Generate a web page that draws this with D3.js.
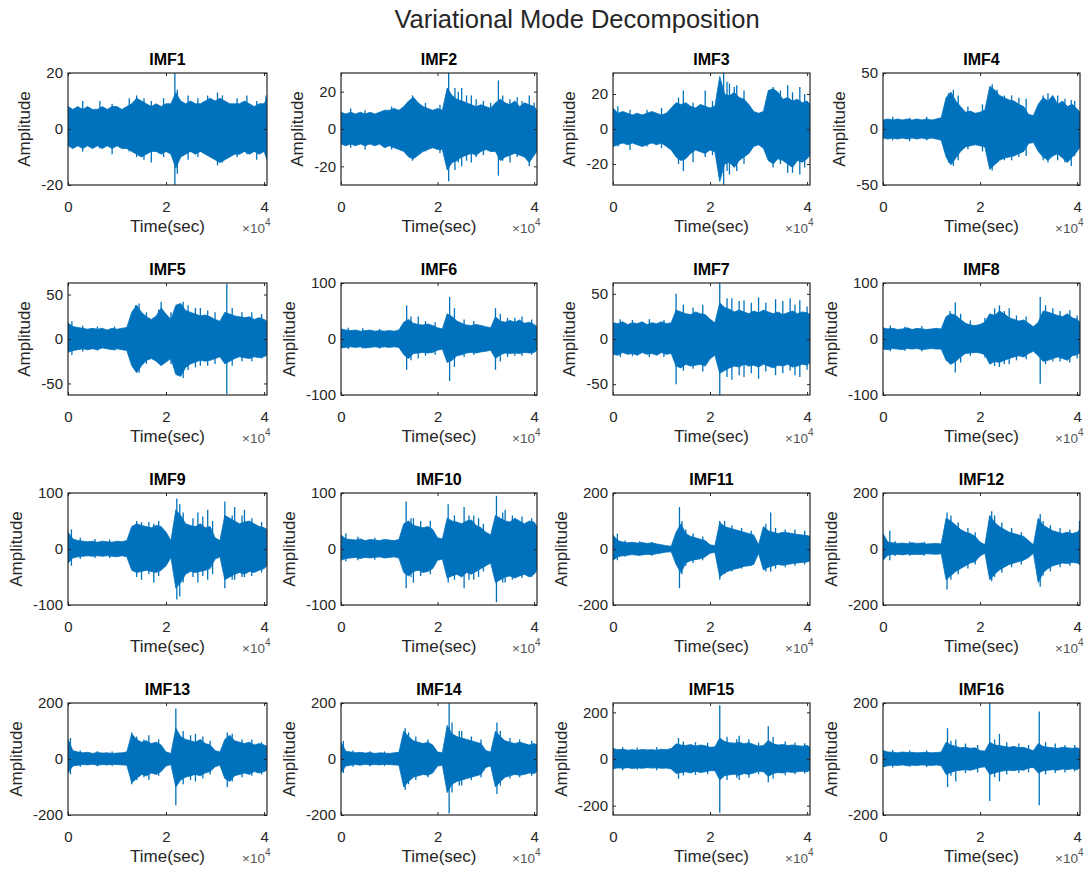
<!DOCTYPE html>
<html><head><meta charset="utf-8">
<script src="https://cdn.jsdelivr.net/npm/d3@7"></script>
<style>body{margin:0;background:#fff} text{font-family:"Liberation Sans",Arial,Helvetica,sans-serif}</style>
</head><body><svg id="chart" width="1087" height="875"></svg>
<script>
// ---------------- DATA ----------------
const chartTitle = "Variational Mode Decomposition";
const imfNames = ["IMF1","IMF2","IMF3","IMF4","IMF5","IMF6","IMF7","IMF8","IMF9","IMF10","IMF11","IMF12","IMF13","IMF14","IMF15","IMF16"];
const xLabel = "Time(sec)";
const yLabel = "Amplitude";
const xMax = 40600;
const xTickValues = [0, 20000, 40000];
const xTickLabels = ["0", "2", "4"];
const yLimits = [20, 30, 32, 50, 63, 100, 62, 100, 100, 100, 200, 200, 200, 200, 240, 200];
const yTickSteps = [20, 20, 20, 50, 50, 100, 50, 100, 100, 100, 200, 200, 200, 200, 200, 200];
// envelope sample times (s)
const timeSec = [0,1000,2000,3000,4000,5000,6000,7000,8000,9000,10000,11000,12000,13000,14000,15000,16000,17000,18000,19000,20000,21000,22000,23000,24000,25000,26000,27000,28000,29000,30000,31000,32000,33000,34000,35000,36000,37000,38000,39000,40000,40600];

// upper / lower envelopes
const imf1Upper = [8,7,8,7,8,7,7,8,7,8, 8,7,8,9,11,10,9,8,9,8, 9,9,13,10,9,10,9,9,10,11, 10,11,10,9,9,9,10,9,8,9, 9,11];
const imf1Lower = [-6,-7,-6,-7,-6,-7,-6,-7,-6,-7, -6,-7,-7,-8,-9,-10,-9,-8,-8,-9, -8,-9,-14,-10,-9,-8,-9,-8,-9,-10, -11,-12,-11,-10,-9,-9,-8,-9,-8,-9, -8,-11];
const imf2Upper = [9,8,9,8,9,8,9,8,9,10, 10,11,10,12,15,17,14,12,11,10, 11,10,22,18,16,15,14,13,12,13, 12,11,14,16,14,13,15,12,14,13, 12,10];
const imf2Lower = [-8,-9,-8,-9,-8,-9,-8,-9,-8,-10, -9,-10,-11,-12,-15,-16,-14,-12,-11,-10, -11,-11,-22,-18,-17,-15,-14,-13,-14,-12, -11,-12,-12,-17,-15,-14,-13,-14,-15,-18, -14,-12];
const imf3Upper = [12,9,10,9,8,9,8,9,10,9, 8,9,12,15,14,15,13,12,14,13, 12,13,30,20,19,21,18,17,14,10, 9,10,22,23,21,17,18,16,17,15, 16,14];
const imf3Lower = [-10,-9,-8,-9,-8,-9,-10,-9,-8,-9, -8,-10,-12,-16,-18,-17,-14,-12,-13,-14, -12,-13,-30,-20,-19,-22,-18,-16,-14,-10, -9,-11,-18,-20,-17,-18,-20,-22,-18,-19, -17,-15];
const imf4Upper = [8,9,8,9,8,9,8,9,8,9, 8,9,10,28,33,25,20,15,16,14, 15,17,38,35,30,28,26,25,22,20, 13,12,22,28,25,30,22,25,20,22, 18,15];
const imf4Lower = [-8,-9,-8,-9,-8,-9,-8,-9,-8,-9, -8,-9,-10,-25,-32,-26,-20,-16,-15,-14, -15,-16,-36,-32,-28,-26,-25,-24,-22,-20, -13,-12,-20,-25,-28,-24,-22,-26,-30,-25, -20,-16];
const imf5Upper = [18,14,13,12,11,12,11,12,10,12, 11,12,13,30,38,30,25,22,26,35, 28,22,38,40,32,30,28,26,27,25, 22,20,30,28,26,25,24,25,22,24, 22,20];
const imf5Lower = [-15,-13,-12,-11,-12,-11,-12,-10,-11,-12, -11,-12,-13,-30,-38,-30,-24,-22,-25,-30, -26,-22,-40,-42,-32,-28,-26,-24,-25,-24, -22,-20,-28,-25,-22,-20,-21,-22,-20,-21, -20,-18];
const imf6Upper = [18,16,15,16,14,15,16,14,15,14, 15,14,16,30,35,28,26,25,27,24, 20,18,45,40,32,28,25,24,26,24, 22,20,40,32,30,33,30,34,28,30, 26,22];
const imf6Lower = [-16,-15,-14,-15,-14,-16,-15,-14,-15,-14, -15,-14,-15,-28,-35,-26,-25,-24,-25,-24, -20,-18,-42,-38,-30,-28,-25,-24,-25,-23, -22,-20,-35,-28,-25,-26,-25,-26,-24,-25, -24,-20];
const imf7Upper = [18,17,19,16,18,17,19,16,18,17, 19,17,18,32,30,28,27,30,28,27, 22,18,40,35,33,30,32,30,28,31, 29,32,30,28,30,27,29,31,28,30, 29,27];
const imf7Lower = [-17,-18,-15,-17,-16,-18,-15,-17,-16,-18, -15,-17,-16,-30,-32,-28,-30,-29,-28,-30, -22,-18,-38,-35,-32,-30,-31,-28,-30,-29, -31,-28,-30,-32,-29,-30,-28,-31,-30,-28, -29,-26];
const imf8Upper = [20,18,19,17,18,20,17,19,18,17, 18,19,18,40,45,42,35,28,25,24, 26,30,45,42,50,45,38,35,32,34, 28,22,30,50,48,45,42,40,45,38, 35,30];
const imf8Lower = [-18,-19,-17,-18,-19,-17,-18,-17,-19,-18, -17,-18,-18,-38,-45,-40,-32,-26,-25,-24, -25,-28,-45,-40,-42,-38,-35,-32,-30,-32, -26,-22,-30,-40,-38,-35,-32,-35,-38,-30, -28,-25];
const imf9Upper = [30,18,15,14,13,14,12,14,13,12, 14,13,15,40,45,42,40,38,42,40, 30,15,70,60,45,42,40,45,38,40, 20,15,60,55,50,45,48,50,45,40, 38,35];
const imf9Lower = [-25,-16,-14,-13,-12,-13,-12,-13,-12,-13, -14,-12,-14,-38,-42,-40,-38,-40,-42,-38, -30,-15,-70,-60,-45,-40,-42,-40,-38,-35, -18,-14,-55,-50,-45,-42,-45,-40,-42,-38, -35,-30];
const imf10Upper = [25,18,17,16,18,15,17,16,15,17, 16,15,17,45,50,42,40,38,40,35, 20,18,55,50,48,45,50,52,42,38, 30,25,60,55,50,48,55,50,45,50, 48,40];
const imf10Lower = [-20,-17,-16,-15,-17,-15,-16,-15,-14,-16, -15,-14,-16,-42,-48,-40,-38,-42,-40,-35, -20,-18,-52,-48,-45,-50,-42,-45,-40,-35, -30,-25,-60,-55,-50,-48,-52,-48,-45,-50, -45,-38];
const imf11Upper = [50,30,25,22,24,21,23,20,22,18, 15,12,10,60,90,55,45,40,35,30, 15,12,95,80,75,70,65,60,55,50, 15,80,65,60,55,60,58,55,52,50, 48,45];
const imf11Lower = [-40,-28,-24,-22,-20,-22,-21,-19,-20,-17, -14,-11,-10,-55,-85,-50,-42,-38,-35,-28, -15,-12,-100,-85,-78,-72,-68,-62,-60,-55, -15,-75,-65,-60,-55,-58,-55,-52,-50,-48, -46,-42];
const imf12Upper = [55,25,22,20,21,19,22,20,21,18, 19,20,18,110,100,85,70,60,55,45, 25,15,120,95,80,70,60,55,50,45, 30,15,110,85,75,65,60,55,60,55, 60,70];
const imf12Lower = [-40,-22,-20,-19,-21,-18,-20,-19,-20,-17, -18,-19,-17,-110,-95,-80,-70,-60,-50,-45, -25,-15,-110,-90,-75,-65,-55,-50,-45,-40, -30,-15,-120,-85,-70,-60,-55,-50,-52,-48, -50,-55];
const imf13Upper = [70,30,25,22,24,20,23,21,22,20, 21,22,25,90,70,60,65,55,60,50, 25,20,110,80,70,65,60,70,55,50, 30,25,70,85,65,60,55,60,50,55, 50,45];
const imf13Lower = [-50,-25,-22,-20,-21,-19,-22,-20,-21,-19, -20,-21,-22,-85,-70,-55,-60,-50,-55,-45, -25,-20,-100,-75,-65,-60,-55,-60,-50,-45, -28,-22,-70,-80,-60,-55,-50,-55,-45,-50, -45,-40];
const imf14Upper = [60,28,25,22,24,21,23,20,22,21, 20,22,24,100,80,65,60,55,60,50, 25,22,120,90,80,75,70,65,60,55, 30,25,100,80,65,60,55,60,55,50, 55,50];
const imf14Lower = [-50,-25,-22,-20,-22,-19,-21,-20,-21,-19, -20,-21,-22,-100,-80,-65,-60,-55,-58,-50, -25,-22,-120,-90,-80,-75,-70,-65,-60,-55, -30,-25,-100,-80,-65,-60,-55,-58,-55,-50, -52,-45];
const imf15Upper = [45,40,42,38,40,37,41,39,40,38, 42,40,45,65,60,58,62,55,60,57, 50,52,90,75,70,68,72,65,70,62, 55,58,80,65,60,62,58,60,57,55, 58,50];
const imf15Lower = [-42,-38,-40,-37,-41,-38,-40,-37,-39,-38, -40,-39,-43,-62,-58,-55,-60,-52,-58,-55, -50,-50,-90,-72,-68,-65,-70,-62,-66,-60, -52,-55,-75,-62,-58,-60,-55,-58,-55,-52, -55,-48];
const imf16Upper = [30,25,24,22,25,23,24,22,23,24, 22,23,25,60,50,45,40,42,38,40, 30,28,60,50,48,45,42,45,40,42, 35,30,55,45,42,40,38,42,40,38, 40,35];
const imf16Lower = [-28,-24,-22,-23,-21,-24,-22,-23,-21,-22, -23,-21,-24,-55,-48,-42,-40,-38,-40,-36, -30,-28,-55,-50,-45,-42,-40,-42,-38,-40, -32,-30,-50,-42,-40,-38,-40,-36,-38,-35, -38,-32];

// isolated spikes: [time, peak, trough]
const imf1Spikes = [[3000,10,-8],[6500,10,-7],[9000,9,-9],[12500,11,-8],[14000,12,-10],[15500,11,-11],[17000,10,-12],[19500,11,-10],[21800,20,-20],[22300,14,-16],[24500,12,-11],[26500,11,-10],[28500,12,-9],[30500,13,-13],[31500,12,-12],[34500,11,-10],[36500,12,-9],[38500,10,-11],[40400,12,-9]];
const imf2Spikes = [[2000,11,-10],[5000,10,-11],[10500,12,-11],[14800,18,-17],[17500,14,-12],[20500,13,-13],[22300,30,-28],[23600,22,-22],[24300,20,-18],[25000,22,-20],[26000,18,-17],[27000,18,-18],[28000,16,-15],[29500,15,-14],[31000,14,-12],[32600,26,-25],[33500,18,-17],[35000,16,-18],[36500,17,-15],[37500,15,-14],[39000,18,-20],[40000,14,-14]];
const imf3Spikes = [[1000,13,-10],[3500,11,-12],[7000,11,-10],[10000,12,-11],[13500,18,-20],[14500,22,-24],[16500,15,-19],[19000,22,-16],[20500,16,-15],[22800,32,-32],[23500,27,-24],[24000,26,-26],[25000,24,-20],[25500,25,-24],[27000,22,-20],[33000,24,-22],[34500,22,-20],[36000,25,-25],[37000,21,-25],[38500,24,-26],[39500,20,-22]];
const imf4Spikes = [[2000,11,-10],[5500,10,-11],[9000,11,-10],[13500,32,-30],[14500,35,-33],[15500,30,-28],[17500,20,-18],[20500,22,-20],[22500,40,-37],[23500,35,-30],[25000,30,-28],[26500,30,-28],[28000,28,-25],[29500,27,-24],[33000,30,-28],[34000,32,-30],[36000,30,-28],[37500,27,-30],[38800,26,-33],[39500,25,-24]];
const imf5Spikes = [[800,20,-18],[3000,15,-14],[6000,14,-13],[9500,14,-13],[13800,38,-35],[14500,40,-38],[16000,30,-28],[18500,33,-25],[19000,42,-25],[21000,30,-28],[23500,42,-44],[24500,38,-35],[26000,35,-32],[27000,35,-30],[28500,32,-30],[30000,30,-28],[32400,62,-62],[33500,35,-30],[35500,30,-25],[37500,30,-25],[39500,28,-22]];
const imf6Spikes = [[1500,20,-18],[4500,19,-17],[8000,18,-17],[13600,60,-55],[14500,40,-38],[16000,40,-35],[17500,32,-30],[19500,30,-28],[22500,75,-75],[23500,55,-50],[25500,35,-32],[27500,32,-28],[32000,55,-55],[33000,45,-40],[34500,38,-32],[36000,38,-30],[37500,40,-30],[39500,35,-28]];
const imf7Spikes = [[1500,22,-20],[4000,21,-19],[7500,22,-20],[10500,21,-20],[13000,50,-50],[14500,38,-35],[16500,35,-33],[18500,38,-36],[22000,62,-62],[23500,45,-42],[24500,45,-45],[26000,42,-40],[27000,43,-42],[28500,40,-38],[30000,46,-44],[31500,40,-36],[33500,44,-40],[35000,42,-38],[36500,45,-35],[37500,38,-40],[38500,43,-42],[40000,36,-34]];
const imf8Spikes = [[1500,24,-22],[4500,22,-21],[8000,23,-22],[13800,50,-45],[14900,65,-60],[16000,45,-42],[18000,33,-30],[21000,38,-33],[23000,55,-48],[24000,60,-50],[25000,50,-45],[26000,55,-45],[27500,42,-38],[29500,40,-36],[32400,75,-80],[33500,60,-45],[35000,55,-40],[36500,50,-40],[38500,52,-42],[40000,42,-35]];
const imf9Spikes = [[700,35,-30],[2500,20,-18],[5500,18,-16],[8500,17,-16],[14000,50,-50],[15000,48,-55],[16500,48,-45],[17500,45,-60],[18500,50,-48],[22200,90,-90],[22800,80,-85],[23500,65,-60],[25500,55,-50],[26500,65,-60],[27500,58,-48],[28500,70,-55],[29500,50,-45],[32000,85,-70],[33500,60,-55],[34000,75,-55],[35500,60,-50],[36000,70,-50],[37500,55,-48],[39500,48,-42]];
const imf10Spikes = [[1000,28,-22],[3500,22,-20],[7000,20,-19],[13500,85,-70],[14500,55,-50],[15000,55,-60],[16500,50,-48],[18500,50,-45],[22200,80,-60],[23500,60,-55],[25500,75,-70],[26500,60,-55],[27500,60,-55],[28500,55,-50],[29500,45,-40],[32200,95,-95],[33500,65,-60],[34000,70,-60],[35500,60,-55],[37500,58,-52],[39500,55,-50]];
const imf11Spikes = [[900,55,-40],[2500,30,-28],[5500,28,-25],[8000,25,-24],[13700,150,-140],[14200,100,-90],[15000,70,-60],[16500,55,-50],[18500,45,-40],[22000,100,-110],[23000,100,-90],[24500,85,-80],[26500,75,-70],[28500,65,-60],[31500,90,-80],[32500,130,-80],[33500,75,-70],[35500,70,-65],[37500,70,-60],[39500,65,-55]];
const imf12Spikes = [[1400,65,-40],[2500,28,-25],[5500,27,-24],[8500,26,-24],[13200,130,-145],[14000,120,-110],[15500,95,-90],[17500,75,-70],[19000,60,-55],[22400,135,-115],[23000,120,-100],[24500,95,-85],[26500,75,-65],[28500,60,-55],[32400,125,-135],[33000,100,-95],[34500,85,-80],[36500,75,-65],[38500,70,-60],[40500,100,-40]];
const imf13Spikes = [[500,75,-55],[2500,30,-28],[6000,28,-26],[9000,27,-25],[13000,95,-90],[14000,80,-75],[15500,70,-65],[16500,85,-75],[18500,70,-60],[22000,180,-165],[23500,100,-90],[25000,85,-75],[26000,90,-80],[27500,80,-70],[29000,65,-55],[32500,95,-100],[33500,90,-80],[35500,70,-65],[37500,70,-60],[39500,60,-55]];
const imf14Spikes = [[500,65,-50],[2500,30,-28],[6000,28,-26],[9000,27,-25],[13300,110,-110],[14000,95,-90],[15500,80,-75],[18000,70,-65],[22400,200,-195],[23000,130,-120],[24500,100,-95],[25000,100,-95],[27000,80,-75],[29000,70,-65],[32300,130,-125],[33000,100,-95],[35000,75,-70],[37000,70,-65],[39500,65,-60]];
const imf15Spikes = [[2000,50,-48],[5000,48,-46],[9000,50,-48],[13500,90,-85],[14500,75,-70],[17000,72,-68],[19500,70,-65],[22000,230,-230],[23500,95,-90],[25500,85,-80],[26000,100,-90],[28000,85,-80],[30000,70,-65],[32000,140,-100],[33000,95,-85],[35500,75,-70],[37500,70,-65],[39500,68,-62]];
const imf16Spikes = [[2000,32,-30],[5500,30,-28],[9000,30,-29],[13300,110,-100],[14000,65,-60],[15000,70,-80],[17000,55,-50],[19500,50,-48],[22000,200,-150],[23000,70,-65],[24000,90,-80],[25500,60,-55],[28000,55,-50],[30000,50,-48],[32200,170,-165],[33500,60,-55],[35500,55,-50],[37500,50,-48],[39500,50,-45]];

const upperEnv = [imf1Upper,imf2Upper,imf3Upper,imf4Upper,imf5Upper,imf6Upper,imf7Upper,imf8Upper,imf9Upper,imf10Upper,imf11Upper,imf12Upper,imf13Upper,imf14Upper,imf15Upper,imf16Upper];
const lowerEnv = [imf1Lower,imf2Lower,imf3Lower,imf4Lower,imf5Lower,imf6Lower,imf7Lower,imf8Lower,imf9Lower,imf10Lower,imf11Lower,imf12Lower,imf13Lower,imf14Lower,imf15Lower,imf16Lower];
const spikeSets = [imf1Spikes,imf2Spikes,imf3Spikes,imf4Spikes,imf5Spikes,imf6Spikes,imf7Spikes,imf8Spikes,imf9Spikes,imf10Spikes,imf11Spikes,imf12Spikes,imf13Spikes,imf14Spikes,imf15Spikes,imf16Spikes];

// ---------------- LAYOUT ----------------
const colLeft = [68, 341, 613, 883];
const colWidth = [199, 196, 197, 197];
const rowTop = [73, 283, 493, 703];
const rowHeight = 112;
const lineColor = "#0072BD";
const axisColor = "#262626";

const svg = d3.select("#chart");
svg.append("rect").attr("width",1087).attr("height",875).attr("fill","#fff");
svg.append("text").attr("x",577).attr("y",28).attr("text-anchor","middle")
  .style("font-size","25.5px").attr("fill",axisColor).text(chartTitle);

imfNames.forEach((name, i) => {
  const r = Math.floor(i / 4), c = i % 4;
  const left = colLeft[c], top = rowTop[r], w = colWidth[c], h = rowHeight;
  const x = d3.scaleLinear().domain([0, xMax]).range([left, left + w]);
  const y = d3.scaleLinear().domain([-yLimits[i], yLimits[i]]).range([top + h, top]);
  const g = svg.append("g");

  svg.append("clipPath").attr("id", "clip" + i).append("rect")
    .attr("x", left).attr("y", top).attr("width", w).attr("height", h);
  const plot = g.append("g").attr("clip-path", `url(#clip${i})`);

  const pts = timeSec.map((t, k) => ({ t, hi: upperEnv[i][k], lo: lowerEnv[i][k] }));
  plot.append("path").datum(pts)
    .attr("d", d3.area().x(d => x(d.t)).y0(d => y(d.lo)).y1(d => y(d.hi)))
    .attr("fill", lineColor).attr("stroke", lineColor).attr("stroke-width", 0.8);
  plot.selectAll("line.spike").data(spikeSets[i]).join("line").attr("class","spike")
    .attr("x1", d => x(d[0])).attr("x2", d => x(d[0]))
    .attr("y1", d => y(d[1])).attr("y2", d => y(d[2]))
    .attr("stroke", lineColor).attr("stroke-width", 1.3);

  const step = yTickSteps[i];
  const yTicks = [-step, 0, step];

  const fmtX = (d) => xTickLabels[xTickValues.indexOf(d)];
  const ax = [
    g.append("g").attr("transform", `translate(0,${top + h})`).call(d3.axisBottom(x).tickValues(xTickValues).tickFormat(fmtX).tickSize(-3).tickSizeOuter(0).tickPadding(16)),
    g.append("g").attr("transform", `translate(0,${top})`).call(d3.axisTop(x).tickValues(xTickValues).tickFormat("").tickSize(-3).tickSizeOuter(0)),
    g.append("g").attr("transform", `translate(${left},0)`).call(d3.axisLeft(y).tickValues(yTicks).tickFormat(d3.format("d")).tickSize(-3).tickSizeOuter(0).tickPadding(5)),
    g.append("g").attr("transform", `translate(${left + w},0)`).call(d3.axisRight(y).tickValues(yTicks).tickFormat("").tickSize(-3).tickSizeOuter(0))
  ];
  ax.forEach(a => {
    a.select(".domain").remove();
    a.selectAll("line").attr("stroke", axisColor);
    a.selectAll("text").attr("fill", axisColor).style("font-size", "15px").attr("font-family", null);
  });
  ax[2].selectAll("text").text(d => String(d));

  g.append("rect").attr("x", left).attr("y", top).attr("width", w).attr("height", h)
    .attr("fill", "none").attr("stroke", axisColor).attr("stroke-width", 1.2);

  g.append("text").attr("x", left + w / 2).attr("y", top - 8).attr("text-anchor", "middle")
    .style("font-size", "16px").style("font-weight", "bold").attr("fill", "#000").text(name);

  let maxW = 0;
  ax[2].selectAll("text").each(function () { maxW = Math.max(maxW, this.getBBox().width); });
  const ly = top + h / 2, lx = left - 5 - maxW - 17;
  g.append("text").attr("transform", `translate(${lx},${ly}) rotate(-90)`).attr("text-anchor", "middle")
    .attr("dy", "0.35em").style("font-size", "17px").attr("fill", axisColor).text(yLabel);

  g.append("text").attr("x", left + w / 2).attr("y", top + h + 47).attr("text-anchor", "middle")
    .style("font-size", "17px").attr("fill", axisColor).text(xLabel);

  const ex = g.append("text").attr("x", left + w - 25).attr("y", top + h + 48)
    .style("font-size", "13.5px").attr("fill", "#555");
  ex.append("tspan").text("\u00d710");
  ex.append("tspan").attr("dy", -7).style("font-size", "10px").text("4");
});
</script></body></html>
